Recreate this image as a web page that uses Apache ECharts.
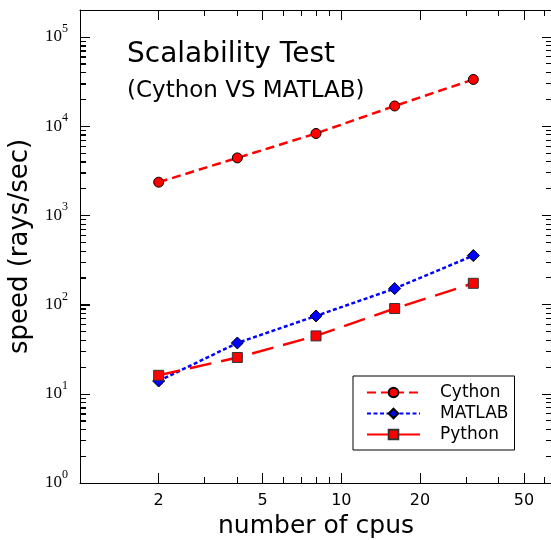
<!DOCTYPE html>
<html>
<head>
<meta charset="utf-8">
<script src="https://cdn.jsdelivr.net/npm/echarts@6/dist/echarts.min.js"></script>
<style>
  html, body { margin: 0; padding: 0; background: #fff; }
  #chart { width: 551px; height: 540px; }
</style>
</head>
<body>
<div id="chart"></div>
<script>
// data
var cpus = [2, 4, 8, 16, 32];
var cython = [2350, 4400, 8260, 16800, 33300];
var matlab = [13.9, 37.1, 74.5, 151, 354];
var python = [16.1, 25.5, 44.5, 90.2, 173];

// axis ranges and ticks
var xRange = [1, 64];
var yRange = [1, 200000];
var xMajor = [2, 5, 10, 20, 50];
var xMinor = [3, 4, 6, 7, 8, 9, 30, 40, 60];
var yMajor = [1, 10, 100, 1000, 10000, 100000];

// log10 rounded, so 1000 gives exactly 3
function lg(v) { return Math.round(Math.log10(v) * 1e9) / 1e9; }

var yMinor = [];
for (var k = 0; k <= 5; k++) {
  for (var m = 2; m <= 9; m++) {
    if (m * Math.pow(10, k) <= yRange[1]) yMinor.push(m * Math.pow(10, k));
  }
}

function pts(xs, ys) {
  return xs.map(function (x, i) { return [lg(x), lg(ys[i])]; });
}

var chart = echarts.init(document.getElementById("chart"));

function xAxisDef(grid, pos, ticks, len, major) {
  return {
    type: "value",
    gridIndex: grid,
    position: pos,
    min: lg(xRange[0]),
    max: lg(xRange[1]),
    axisLine: { show: major, onZero: false, lineStyle: { color: "#000", width: 1 } },
    axisTick: {
      show: true, inside: true, length: len, interval: 0,
      customValues: ticks.map(lg),
      lineStyle: { color: "#000", width: 1 },
    },
    axisLabel: {
      show: major && pos === "bottom",
      interval: 0,
      customValues: ticks.map(lg),
      margin: 10,
      color: "#000",
      fontSize: 16,
      fontFamily: "DejaVu Sans",
      formatter: function (v) { return String(Math.round(Math.pow(10, v))); },
    },
    splitLine: { show: false },
  };
}

function yAxisDef(grid, pos, ticks, len, major) {
  return {
    type: "value",
    gridIndex: grid,
    position: pos,
    min: lg(yRange[0]),
    max: lg(yRange[1]),
    axisLine: { show: major, onZero: false, lineStyle: { color: "#000", width: 1 } },
    axisTick: {
      show: true, inside: true, length: len, interval: 0,
      customValues: ticks.map(lg),
      lineStyle: { color: "#000", width: 1 },
    },
    axisLabel: {
      show: major && pos === "left",
      interval: 0,
      customValues: ticks.map(lg),
      margin: 12,
      formatter: function (v) { return "{b|10}{s|" + Math.round(v) + "}"; },
      rich: {
        b: { fontSize: 17, fontFamily: "Liberation Serif", color: "#000", lineHeight: 28 },
        s: { fontSize: 12, fontFamily: "Liberation Serif", color: "#000", lineHeight: 12, verticalAlign: "top" },
      },
    },
    splitLine: { show: false },
  };
}

// grid 0: data + major ticks, grid 1 (same box): minor ticks
var xAxes = [
  xAxisDef(0, "bottom", xMajor, 10, true),
  xAxisDef(0, "top", xMajor, 10, true),
  xAxisDef(1, "bottom", xMinor, 6, false),
  xAxisDef(1, "top", xMinor, 6, false),
];
xAxes[0].name = "number of cpus";
xAxes[0].nameLocation = "middle";
xAxes[0].nameGap = 30;
xAxes[0].nameTextStyle = { fontSize: 25, fontFamily: "DejaVu Sans", color: "#000" };

var yAxes = [
  yAxisDef(0, "left", yMajor, 10, true),
  yAxisDef(0, "right", yMajor, 10, true),
  yAxisDef(1, "left", yMinor, 6, false),
  yAxisDef(1, "right", yMinor, 6, false),
];
yAxes[0].name = "speed (rays/sec)";
yAxes[0].nameLocation = "middle";
yAxes[0].nameGap = 47;
yAxes[0].nameTextStyle = { fontSize: 26, fontFamily: "DejaVu Sans", color: "#000" };

var gridBox = { left: 80, right: -1, top: 10, bottom: 57, outerBoundsMode: "none" };

// left spine ticks drawn through the y scale, pointing into the plot
function leftTicks(values, len) {
  return {
    type: "custom",
    silent: true,
    z: 10,
    xAxisIndex: 0,
    yAxisIndex: 0,
    clip: false,
    data: values.map(function (v) { return [lg(xRange[0]), lg(v)]; }),
    renderItem: function (params, api) {
      var p = api.coord([api.value(0), api.value(1)]);
      var y = Math.round(p[1]) + 0.5;
      return {
        type: "line",
        shape: { x1: p[0], y1: y, x2: p[0] + len, y2: y },
        style: { stroke: "#000", lineWidth: 1 },
      };
    },
  };
}

option = {
  backgroundColor: "#fff",
  animation: false,
  title: {
    text: "Scalability Test",
    subtext: "(Cython VS MATLAB)",
    left: 127,
    top: 41,
    padding: 0,
    itemGap: 11,
    textStyle: { fontSize: 28, fontWeight: "normal", fontFamily: "DejaVu Sans", color: "#000" },
    subtextStyle: { fontSize: 23, fontFamily: "DejaVu Sans", color: "#000" },
  },
  grid: [Object.assign({}, gridBox), Object.assign({}, gridBox)],
  legend: {
    orient: "vertical",
    left: 353,
    top: 376,
    padding: [8, 6, 7, 13],
    itemWidth: 53,
    itemHeight: 12,
    itemGap: 4,
    borderColor: "#000",
    borderWidth: 1,
    backgroundColor: "#fff",
    textStyle: { fontSize: 17, fontFamily: "DejaVu Sans", color: "#000", padding: [0, 0, 0, 15] },
    data: ["Cython", "MATLAB", "Python"],
  },
  xAxis: xAxes,
  yAxis: yAxes,
  series: [
    {
      name: "Cython",
      type: "line",
      data: pts(cpus, cython),
      symbol: "circle",
      symbolSize: 10,
      itemStyle: { color: "#ff0000", borderColor: "#000", borderWidth: 1 },
      lineStyle: { color: "#ff0000", width: 2.5, type: [9, 5] },
    },
    {
      name: "MATLAB",
      type: "line",
      data: pts(cpus, matlab),
      symbol: "diamond",
      symbolSize: 12,
      itemStyle: { color: "#0000ff", borderColor: "#000", borderWidth: 1 },
      lineStyle: { color: "#0000ff", width: 2.5, type: [4, 2.5] },
    },
    {
      name: "Python",
      type: "line",
      data: pts(cpus, python),
      symbol: "rect",
      symbolSize: 10,
      itemStyle: { color: "#ff0000", borderColor: "#333", borderWidth: 1 },
      lineStyle: { color: "#ff0000", width: 2.5, type: [22, 10] },
    },
    leftTicks(yMajor, 10),
    leftTicks(yMinor, 6),
  ],
};

chart.setOption(option);
</script>
</body>
</html>
